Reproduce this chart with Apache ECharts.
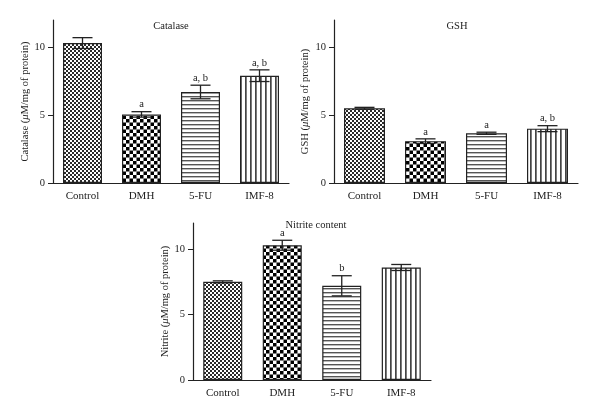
<!DOCTYPE html>
<html><head><meta charset="utf-8">
<script src="https://cdn.jsdelivr.net/npm/echarts@6/dist/echarts.min.js"></script>
<style>html,body{margin:0;padding:0;background:#fff}#c{width:600px;height:420px}</style>
</head><body><div id="c"></div>
<script>
const categories = ['Control', 'DMH', '5-FU', 'IMF-8'];
const yTicks = [0, 5, 10];
const yMax = 12;

const catalaseMean = [10.3, 5.05, 6.7, 7.9];
const catalaseErr = [0.4, 0.2, 0.5, 0.43];
const catalaseSig = ['', 'a', 'a, b', 'a, b'];

const gshMean = [5.5, 3.08, 3.66, 4.0];
const gshErr = [0.07, 0.17, 0.08, 0.22];
const gshSig = ['', 'a', 'a', 'a, b'];

const nitriteMean = [7.5, 10.3, 7.2, 8.6];
const nitriteErr = [0.08, 0.38, 0.77, 0.23];
const nitriteSig = ['', 'a', 'b', ''];

const titles = ['Catalase', 'GSH', 'Nitrite content'];
const yNames = ['Catalase', 'GSH', 'Nitrite'];

function mk(w, h, draw) {
  const c = document.createElement('canvas');
  c.width = w; c.height = h;
  const g = c.getContext('2d');
  g.fillStyle = '#fff'; g.fillRect(0, 0, w, h);
  draw(g);
  return { image: c, repeat: 'repeat' };
}
const patterns = [
  mk(4, 4, g => { g.fillStyle = '#2a2a2a'; g.fillRect(0, 0, 2, 2); g.fillRect(2, 2, 2, 2); }),
  mk(7, 7, g => { g.fillStyle = '#000'; g.fillRect(0, 0, 3.5, 3.5); g.fillRect(3.5, 3.5, 3.5, 3.5); }),
  mk(4, 4, g => { g.fillStyle = '#555'; g.fillRect(0, 0, 4, 1.4); }),
  mk(5, 5, g => { g.fillStyle = '#444'; g.fillRect(0, 0, 1.7, 5); })
];

const font = 'Liberation Serif';
const grids = [
  { left: 53, top: 20, width: 236, height: 163 },
  { left: 334, top: 20, width: 244, height: 163 },
  { left: 193, top: 223, width: 238, height: 157 }
];
const nameGaps = [21, 23, 19];
const barWidths = [39, 41, 39];
const titlePos = [[171, 21], [457, 21], [316, 220]];
const means = [catalaseMean, gshMean, nitriteMean];
const errs = [catalaseErr, gshErr, nitriteErr];
const sigs = [catalaseSig, gshSig, nitriteSig];

const option = {
  animation: false,
  backgroundColor: '#fff',
  textStyle: { fontFamily: font },
  title: titles.map((t, i) => ({
    text: t, left: titlePos[i][0], top: titlePos[i][1], textAlign: 'center', padding: 0,
    textStyle: { fontFamily: font, fontSize: 10.5, fontWeight: 'normal', color: '#222' }
  })),
  grid: grids,
  xAxis: grids.map((g, i) => ({
    type: 'category', gridIndex: i, data: categories,
    axisLine: { lineStyle: { color: '#222', width: 1.2 } },
    axisTick: { alignWithLabel: true, length: 4, lineStyle: { color: '#222' } },
    axisLabel: { fontFamily: font, fontSize: 11, color: '#222', margin: 8 }
  })),
  yAxis: grids.map((g, i) => ({
    type: 'value', gridIndex: i, min: 0, max: yMax, interval: 5,
    name: '{n|' + yNames[i] + ' (}{m|μ}{n|M/mg of protein)}',
    nameLocation: 'middle', nameGap: nameGaps[i],
    nameTextStyle: { rich: {
      n: { fontFamily: font, fontSize: 10.5, color: '#222' },
      m: { fontFamily: font, fontSize: 10.5, color: '#222', fontStyle: 'italic' } } },
    splitLine: { show: false },
    axisLine: { show: true, lineStyle: { color: '#222', width: 1.2 } },
    axisTick: { show: true, length: 5, customValues: yTicks, lineStyle: { color: '#222' } },
    axisLabel: { fontFamily: font, fontSize: 10.5, color: '#222', margin: 8, customValues: yTicks }
  })),
  series: []
};

for (let i = 0; i < 3; i++) {
  option.series.push({
    type: 'bar', xAxisIndex: i, yAxisIndex: i, barWidth: barWidths[i],
    data: means[i].map((v, k) => ({ value: v, itemStyle: { color: patterns[k] } })),
    itemStyle: { borderColor: '#222', borderWidth: 1.2 }
  });
  option.series.push({
    type: 'custom', xAxisIndex: i, yAxisIndex: i, z: 5,
    data: means[i].map((v, k) => [k, v - errs[i][k], v + errs[i][k], sigs[i][k]]),
    renderItem: function (params, api) {
      const k = api.value(0);
      const lo = api.coord([k, api.value(1)]);
      const hi = api.coord([k, api.value(2)]);
      const hw = 10;
      const st = { stroke: '#222', lineWidth: 1.3 };
      const lab = sigs[i][k];
      const children = [
        { type: 'line', shape: { x1: hi[0], y1: hi[1], x2: lo[0], y2: lo[1] }, style: st },
        { type: 'line', shape: { x1: hi[0] - hw, y1: hi[1], x2: hi[0] + hw, y2: hi[1] }, style: st },
        { type: 'line', shape: { x1: lo[0] - hw, y1: lo[1], x2: lo[0] + hw, y2: lo[1] }, style: st }
      ];
      if (lab) children.push({ type: 'text', x: hi[0], y: hi[1] - 1.5, style: {
        text: lab, fontFamily: font, fontSize: 10.5, fill: '#222', align: 'center', verticalAlign: 'bottom' } });
      return { type: 'group', children: children };
    }
  });
}

const chart = echarts.init(document.getElementById('c'), null, { renderer: 'canvas' });
chart.setOption(option);
</script></body></html>
